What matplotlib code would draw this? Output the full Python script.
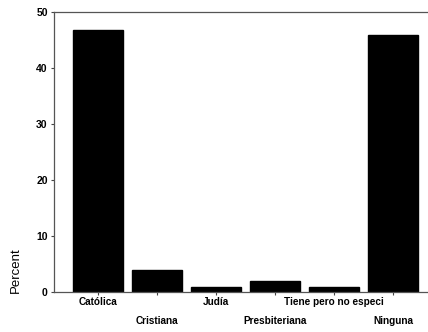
import matplotlib
matplotlib.use("Agg")
import matplotlib.pyplot as plt

categories = ["Católica", "Cristiana", "Judía", "Presbiteriana", "Tiene pero no especi", "Ninguna"]
percent = [46.8, 3.9, 0.9, 2.0, 0.9, 45.9]
yticks = [0, 10, 20, 30, 40, 50]

plt.rcParams['font.family'] = ['Liberation Sans', 'DejaVu Sans']

fig = plt.figure(figsize=(4.28, 3.32), dpi=100)
ax = fig.add_axes([54/428, 1 - 292/332, (428-54)/428, (292-12)/332])

x = list(range(len(categories)))
ax.bar(x, percent, width=0.85, color='black', edgecolor='black')
ax.set_xlim(-0.746, 5.59)
ax.set_ylim(0, 50)
ax.set_yticks(yticks)
ax.set_yticklabels([str(v) for v in yticks], fontsize=7.5, fontweight='bold')
ax.set_xticks(x)
ax.set_xticklabels([])
for i, c in enumerate(categories):
    yoff = -0.036 if i % 2 == 0 else -0.104
    ax.text(i, yoff, c, transform=ax.get_xaxis_transform(), ha='center', va='center',
            fontsize=7.2, fontweight='bold')
ax.tick_params(axis='both', length=2.5, width=0.8, color='#444444', pad=2)
for s in ['right']:
    ax.spines[s].set_visible(False)
for s in ['left', 'top', 'bottom']:
    ax.spines[s].set_color('#555555')
    ax.spines[s].set_linewidth(0.9)
fig.text(16/428, 1 - 270/332, "Percent", rotation=90, ha='center', va='center', fontsize=9.5)

fig.savefig("out.png", dpi=100)
